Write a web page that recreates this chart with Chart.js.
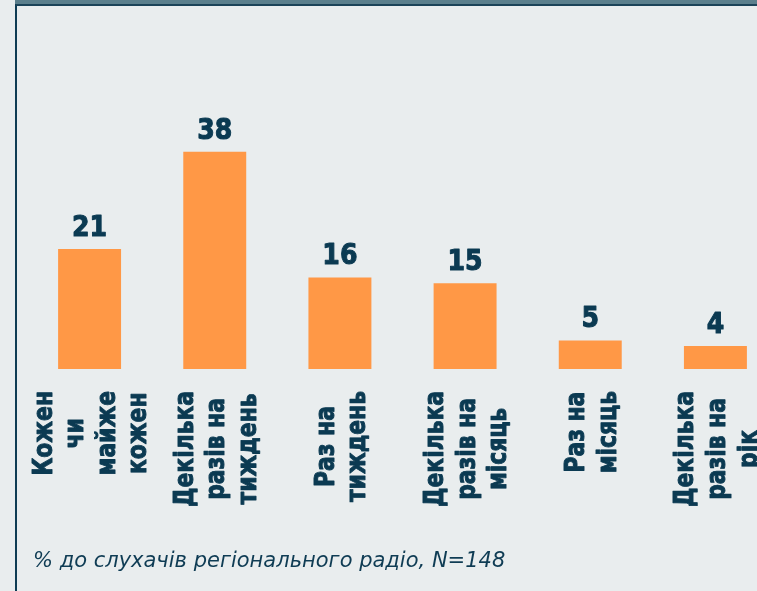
<!DOCTYPE html>
<html>
<head>
<meta charset="utf-8">
<script src="https://cdn.jsdelivr.net/npm/chart.js@4"></script>
<style>
  html, body { margin:0; padding:0; width:757px; height:591px; overflow:hidden; background:#E9EDEE; }
  #band { position:absolute; left:15px; top:0; width:760px; height:4px; background:#5B7F8C; }
  #panel { position:absolute; left:15px; top:4px; width:760px; height:600px; border-left:2px solid #0F3C54; border-top:2px solid #1B4358; box-sizing:border-box; }
  #chart { position:absolute; left:0; top:0; }
  #note { position:absolute; left:33px; top:548px; font-family:"DejaVu Sans"; font-style:italic; font-size:21px; color:#0F3C54; white-space:nowrap; }
</style>
</head>
<body>
<div id="band"></div>
<div id="panel"></div>
<canvas id="chart" width="800" height="591"></canvas>
<div id="note">% до слухачів регіонального радіо, N=148</div>
<script>
const categories = [
  ["Кожен", "чи", "майже", "кожен"],
  ["Декілька", "разів на", "тиждень"],
  ["Раз на", "тиждень"],
  ["Декілька", "разів на", "місяць"],
  ["Раз на", "місяць"],
  ["Декілька", "разів на", "рік"]
];
const values = [21, 38, 16, 15, 5, 4];

const navy = '#0B3A52';
const labelPlugin = {
  id: 'labels',
  afterDatasetsDraw(chart) {
    const ctx = chart.ctx;
    const meta = chart.getDatasetMeta(0);
    const xs = chart.scales.x;
    ctx.save();
    ctx.fillStyle = navy;
    ctx.strokeStyle = navy;
    ctx.lineJoin = 'round';
    ctx.textAlign = 'center';
    ctx.textBaseline = 'alphabetic';
    ctx.font = 'bold 29px "DejaVu Sans"';
    const vsx = 0.87;
    meta.data.forEach((bar, i) => {
      ctx.save();
      ctx.translate(bar.x, bar.y - 13);
      ctx.scale(vsx, 1);
      ctx.lineWidth = 1.1;
      ctx.fillText(String(values[i]), 0, 0);
      ctx.strokeText(String(values[i]), 0, 0);
      ctx.restore();
    });
    ctx.font = 'bold 26px "DejaVu Sans"';
    const sx = 0.84;
    const lineH = 31.6;
    const top = 391;
    categories.forEach((lines, i) => {
      const x = xs.getPixelForValue(i);
      const maxW = Math.max(...lines.map(l => ctx.measureText(l).width)) * sx;
      ctx.save();
      ctx.translate(x, top);
      ctx.rotate(-Math.PI / 2);
      const n = lines.length;
      lines.forEach((l, j) => {
        ctx.save();
        ctx.translate(-maxW / 2, (j - (n - 1) / 2) * lineH + 9.5);
        ctx.scale(sx, 1);
        ctx.lineWidth = 1;
        ctx.fillText(l, 0, 0);
        ctx.strokeText(l, 0, 0);
        ctx.restore();
      });
      ctx.restore();
    });
    ctx.restore();
  }
};

new Chart(document.getElementById('chart'), {
  type: 'bar',
  data: {
    labels: categories,
    datasets: [{
      data: values,
      backgroundColor: '#FF9846',
      borderWidth: 0,
      barPercentage: 0.503,
      categoryPercentage: 1
    }]
  },
  options: {
    responsive: false,
    animation: false,
    layout: { padding: { left: 27, right: 22, top: 83, bottom: 222 } },
    plugins: { legend: { display: false }, tooltip: { enabled: false } },
    scales: {
      x: { display: false },
      y: { display: false, min: 0, max: 50 }
    }
  },
  plugins: [labelPlugin]
});
</script>
</body>
</html>
